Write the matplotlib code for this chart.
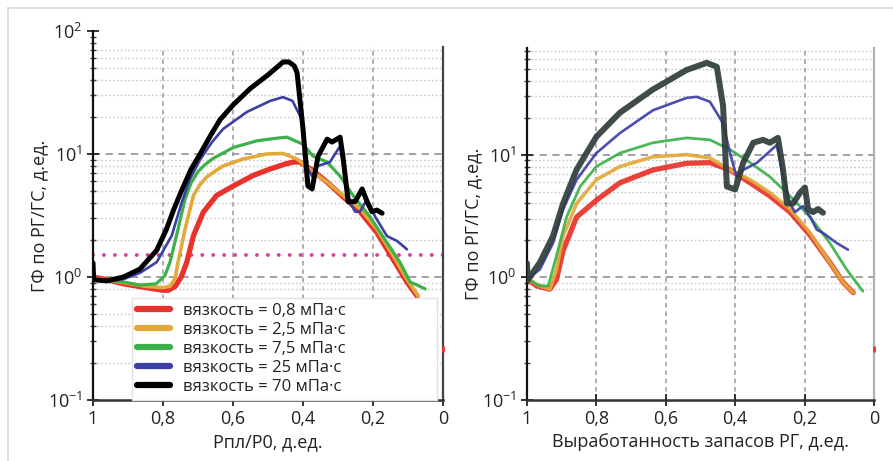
import matplotlib
matplotlib.use("Agg")
import matplotlib.pyplot as plt
from matplotlib.lines import Line2D
from matplotlib.ticker import FixedLocator, LogLocator, NullFormatter

plt.rcParams['font.family'] = ['Open Sans', 'DejaVu Sans']
plt.rcParams['mathtext.fontset'] = 'custom'
plt.rcParams['mathtext.rm'] = 'Open Sans'

# ---------------- data ----------------
labels = ["вязкость = 0,8 мПа·с", "вязкость = 2,5 мПа·с", "вязкость = 7,5 мПа·с",
          "вязкость = 25 мПа·с", "вязкость = 70 мПа·с"]
xtick_vals = [1.0, 0.8, 0.6, 0.4, 0.2, 0.0]
xtick_labels = ["1", "0,8", "0,6", "0,4", "0,2", "0"]
xlabel_left = "Рпл/Р0, д.ед."
xlabel_right = "Выработанность запасов РГ, д.ед."
ylabel = "ГФ по РГ/ГС, д.ед."
threshold = 1.5
stray_x, stray_y = 0.0, 0.26

# Left panel: Рпл/Р0
L_red_x = [1.0, .96, .913, .87, .837, .80, .785, .765, .748, .732, .713, .685, .647, .599, .542, .494, .45, .428, .409, .371, .331, .286, .237, .189, .143, .103, .074]
L_red_y = [1.0, .95, .88, .84, .81, .78, .78, .84, 1.0, 1.32, 2.17, 3.36, 4.6, 5.5, 6.7, 7.55, 8.3, 8.6, 8.6, 7.3, 5.9, 4.5, 3.4, 2.3, 1.4, .91, .7]
L_orange_x = [1.0, .913, .85, .80, .78, .765, .757, .737, .713, .695, .675, .65, .628, .571, .504, .457, .417, .371, .331, .286, .237, .189, .143, .103, .071]
L_orange_y = [.98, .9, .84, .82, .84, .98, 1.32, 2.45, 4.6, 5.6, 6.5, 7.3, 8.0, 9.1, 10.0, 10.1, 9.1, 7.1, 5.9, 4.6, 3.6, 2.45, 1.5, .96, .7]
L_green_x = [1.0, .913, .866, .82, .795, .78, .757, .737, .72, .70, .68, .657, .599, .532, .47, .446, .4, .371, .331, .294, .257, .209, .16, .123, .094, .07, .051]
L_green_y = [.97, .91, .86, .88, 1.02, 1.32, 2.45, 4.3, 5.8, 7.2, 8.2, 9.2, 11.3, 12.8, 13.5, 13.7, 12.0, 9.6, 8.6, 6.6, 4.6, 3.1, 1.9, 1.32, .91, .85, .8]
L_blue_x = [1.0, .96, .913, .866, .818, .775, .747, .723, .694, .66, .628, .56, .494, .457, .43, .403, .386, .374, .357, .323, .294, .28, .265, .251, .237, .217, .194, .16, .131, .103]
L_blue_y = [.95, .92, .96, 1.08, 1.32, 2.17, 4.0, 6.25, 9.0, 12.5, 16.0, 22.0, 27.0, 29.0, 27.0, 19.0, 7.6, 6.6, 8.0, 8.6, 11.6, 6.6, 4.0, 3.4, 3.4, 4.3, 3.1, 2.15, 1.96, 1.68]
L_black_x = [1.0, .998, .96, .913, .866, .818, .79, .77, .75, .72, .694, .665, .637, .60, .551, .50, .47, .457, .44, .425, .417, .40, .386, .374, .357, .331, .317, .294, .286, .271, .251, .231, .217, .203, .189, .174]
L_black_y = [1.3, .95, .93, 1.0, 1.16, 1.65, 2.45, 3.5, 4.8, 7.5, 10.0, 14.0, 19.0, 25.0, 34.0, 44.0, 52.0, 56.0, 56.0, 52.0, 46.0, 16.0, 5.5, 5.2, 9.6, 13.2, 12.5, 13.7, 9.6, 4.1, 4.1, 5.2, 4.1, 3.4, 3.5, 3.3]

# Right panel: выработанность
R_red_x = [1.0, .972, .934, .915, .896, .857, .80, .732, .637, .54, .473, .415, .357, .30, .242, .184, .127, .089, .06]
R_red_y = [.97, .85, .8, .96, 1.65, 3.1, 4.25, 5.9, 7.5, 8.5, 8.6, 7.5, 5.9, 4.6, 3.4, 2.2, 1.32, .91, .75]
R_orange_x = [1.0, .963, .934, .915, .896, .857, .80, .732, .637, .54, .473, .415, .357, .30, .242, .184, .127, .089, .06]
R_orange_y = [.97, .85, .8, 1.16, 2.17, 4.0, 6.25, 8.0, 9.6, 10.0, 9.4, 7.5, 6.25, 4.9, 3.6, 2.3, 1.32, .91, .75]
R_green_x = [1.0, .963, .939, .915, .886, .847, .80, .732, .637, .54, .473, .415, .357, .30, .242, .184, .127, .079, .032]
R_green_y = [.97, .85, .85, 1.5, 3.1, 5.5, 8.0, 10.3, 12.5, 13.7, 13.2, 11.0, 8.6, 6.6, 4.6, 3.1, 1.9, 1.16, .77]
R_blue_x = [1.0, .963, .925, .896, .857, .80, .732, .637, .54, .511, .473, .435, .415, .396, .377, .337, .28, .266, .242, .228, .205, .184, .165, .147, .107, .075]
R_blue_y = [.96, 1.16, 1.9, 3.6, 6.25, 10.3, 15.0, 23.0, 29.0, 29.6, 27.0, 18.0, 10.3, 6.6, 7.5, 8.6, 12.0, 7.5, 4.0, 3.4, 3.8, 3.1, 2.45, 2.3, 1.9, 1.68]
R_black_x = [1.0, .998, .963, .925, .896, .857, .80, .732, .637, .54, .482, .453, .435, .424, .40, .377, .348, .32, .30, .277, .262, .251, .233, .213, .199, .19, .176, .161, .147]
R_black_y = [1.3, .95, 1.32, 2.17, 4.0, 7.55, 14.0, 22.0, 34.0, 49.0, 56.0, 52.0, 25.0, 5.5, 5.2, 8.6, 12.5, 13.2, 12.5, 13.7, 7.5, 4.0, 4.0, 4.9, 5.4, 3.6, 3.4, 3.6, 3.36]

colors = ['#e8322b', '#e3a93a', '#3cb14a', '#3b3fa6', '#000000']
colors_right = ['#e8322b', '#e3a93a', '#3cb14a', '#3b3fa6', '#2e3d3a']
widths = [3.8, 2.6, 2.3, 1.9, 3.6]
widths_right = [3.8, 2.6, 2.0, 1.9, 4.3]

left_series = [(L_red_x, L_red_y), (L_orange_x, L_orange_y), (L_green_x, L_green_y),
               (L_blue_x, L_blue_y), (L_black_x, L_black_y)]
right_series = [(R_red_x, R_red_y), (R_orange_x, R_orange_y), (R_green_x, R_green_y),
                (R_blue_x, R_blue_y), (R_black_x, R_black_y)]

# ---------------- figure ----------------
W, H = 893, 461
fig = plt.figure(figsize=(W / 100, H / 100), dpi=100)
fig.patch.set_facecolor('white')

GRID_TOP = 74.0
axL = fig.add_axes([93 / W, 61 / H, 350 / W, 369 / H])
axR = fig.add_axes([527 / W, 61 / H, 347 / W, 352 / H])


def style(ax, ytop, minor_lows, right_color):
    ax.set_yscale('log')
    ax.set_xlim(1, 0)
    ax.set_ylim(0.1, ytop)
    minors = [m * d for d in (0.1, 1, 10) for m in range(2, 10) if m * d < GRID_TOP]
    minors = [v for v in minors if v > 1 or v in minor_lows]
    ax.hlines(minors, 1, 0, colors='#c8c8c8', linestyles=(0, (1.2, 1.6)), lw=1.0, zorder=0)
    ax.hlines([1, 10], 1, 0, colors='#9a9a9a', linestyles=(0, (4, 3)), lw=1.3, zorder=0.5)
    ax.vlines(xtick_vals[1:-1], 0.1, GRID_TOP, colors='#9a9a9a', linestyles=(0, (3, 2.5)), lw=1.1, zorder=0.5)
    ax.xaxis.set_major_locator(FixedLocator(xtick_vals))
    ax.set_xticklabels(xtick_labels)
    ax.yaxis.set_major_locator(LogLocator(base=10, numticks=10))
    ax.yaxis.set_minor_locator(LogLocator(base=10, subs=range(2, 10), numticks=10))
    ax.yaxis.set_minor_formatter(NullFormatter())
    ax.tick_params(axis='both', which='major', direction='inout', length=8, width=1.3,
                   labelsize=13, color='#222222', labelcolor='#222222')
    ax.tick_params(axis='y', which='minor', direction='inout', length=5, width=1.0, color='#444444')
    ax.tick_params(axis='x', pad=3)
    ax.spines['top'].set_visible(False)
    ax.spines['left'].set_linewidth(1.6)
    ax.spines['left'].set_color('#111111')
    ax.spines['bottom'].set_linewidth(1.8)
    ax.spines['bottom'].set_color('#333333')
    ax.spines['right'].set_color(right_color)
    ax.spines['right'].set_linewidth(1.6)
    ax.spines['right'].set_bounds(0.1, GRID_TOP)
    ax.set_ylabel(ylabel, fontsize=13, color='#222222', labelpad=0)


style(axL, 100, [0.2, 0.3, 0.4, 0.5, 0.6, 0.7, 0.8, 0.9], '#444444')
style(axR, GRID_TOP, [0.8, 0.9], '#b0b0b0')

for (xs, ys), c, lw, lab in zip(left_series, colors, widths, labels):
    axL.plot(xs, ys, color=c, lw=lw, label=lab, solid_joinstyle='round', solid_capstyle='round', zorder=3)
for (xs, ys), c, lw in zip(right_series, colors_right, widths_right):
    axR.plot(xs, ys, color=c, lw=lw, alpha=0.92, solid_joinstyle='round', solid_capstyle='round', zorder=3)

axL.axhline(threshold, color='#e2379b', lw=2.8, linestyle=(0, (0.01, 2.8)),
            dash_capstyle='round', zorder=2)

for ax in (axL, axR):
    ax.plot([stray_x], [stray_y], marker='|', color='#e8322b', markersize=5, mew=2,
            clip_on=False, zorder=4)

axL.set_xlabel(xlabel_left, fontsize=13, color='#222222', labelpad=4)
axR.set_xlabel(xlabel_right, fontsize=13, color='#222222', labelpad=4)

leg = axL.legend(loc='upper left', bbox_to_anchor=(0.111, 0.277, 0.871, 0.0), mode='expand',
                 fontsize=12, frameon=True, fancybox=False, edgecolor='#e2e2e2', framealpha=1,
                 handlelength=2.0, handletextpad=0.75, labelspacing=0.18,
                 borderpad=0.3, borderaxespad=0)
for t in leg.get_texts():
    t.set_color('#222222')
for h in leg.get_lines():
    h.set_linewidth(4.5)
leg.set_zorder(5)

fig.add_artist(Line2D([8 / W, 1], [1 - 8 / H, 1 - 8 / H], color='#d9d9d9', lw=1.2))
fig.add_artist(Line2D([8 / W, 8 / W], [0, 1 - 8 / H], color='#d9d9d9', lw=1.2))

fig.savefig('out.png', dpi=100, facecolor='white')
